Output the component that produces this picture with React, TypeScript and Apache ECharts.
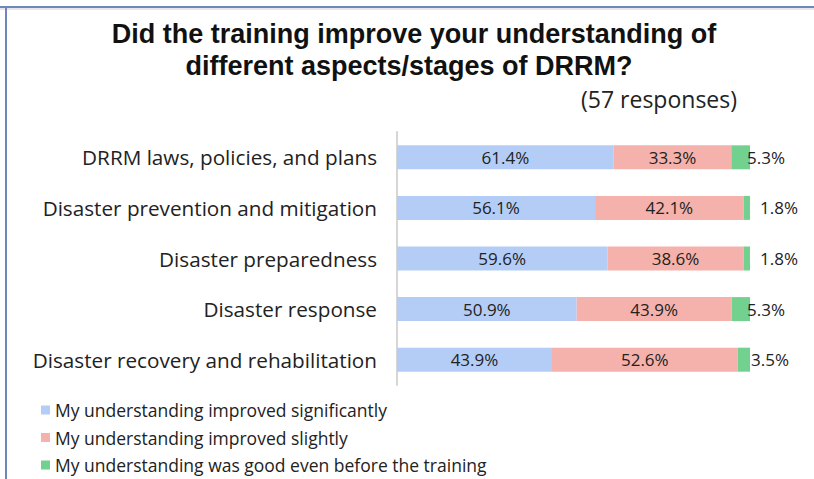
import React, { useEffect, useRef } from "react";
import * as echarts from "echarts";

const categories = [
  "DRRM laws, policies, and plans",
  "Disaster prevention and mitigation",
  "Disaster preparedness",
  "Disaster response",
  "Disaster recovery and rehabilitation",
];
const seriesNames = [
  "My understanding improved significantly",
  "My understanding improved slightly",
  "My understanding was good even before the training",
];
const significantly = [61.4, 56.1, 59.6, 50.9, 43.9];
const slightly = [33.3, 42.1, 38.6, 43.9, 52.6];
const goodBefore = [5.3, 1.8, 1.8, 5.3, 3.5];

const titleLine1 = "Did the training improve your understanding of";
const titleLine2 = "different aspects/stages of DRRM?";
const subtitle = "(57 responses)";

// styling (not data)
const colors = ["#b4cdf6", "#f5b2ac", "#72d18f"];
const greenLabelShift = [-3, 10, 10, -3, 1];
const FONT = "'Open Sans', Lato, sans-serif";
const TITLE_FONT = "'Liberation Sans', Arial, sans-serif";

export default function App() {
  const ref = useRef<HTMLDivElement>(null);
  useEffect(() => {
    if (!ref.current) return;
    const chart = echarts.init(ref.current, undefined, { renderer: "svg" });
    const fmt = (p: any) => Number(p.value).toFixed(1) + "%";
    const insideLabel = {
      show: true,
      position: "inside",
      fontSize: 17,
      color: "#222",
      fontFamily: FONT,
      formatter: fmt,
    };
    chart.setOption({
      animation: false,
      backgroundColor: "#ffffff",
      textStyle: { fontFamily: FONT },
      grid: { left: 397, right: 64, top: 132, bottom: 94, containLabel: false },
      xAxis: { type: "value", min: 0, max: 100, show: false },
      yAxis: {
        type: "category",
        data: categories,
        inverse: true,
        axisLine: { show: true, lineStyle: { color: "#d6d6d6", width: 2 } },
        axisTick: { show: false },
        axisLabel: { fontSize: 20.7, color: "#222", margin: 20, fontFamily: FONT },
      },
      legend: {
        orient: "vertical",
        left: 41,
        top: 401,
        padding: 0,
        itemWidth: 9,
        itemHeight: 9,
        itemGap: 9.5,
        icon: "rect",
        textStyle: { fontSize: 17.5, color: "#222", fontFamily: FONT },
        data: seriesNames,
      },
      series: [
        {
          name: seriesNames[0],
          type: "bar",
          stack: "all",
          barWidth: 24,
          itemStyle: { color: colors[0] },
          label: insideLabel,
          data: significantly,
        },
        {
          name: seriesNames[1],
          type: "bar",
          stack: "all",
          barWidth: 24,
          itemStyle: { color: colors[1] },
          label: insideLabel,
          data: slightly,
        },
        {
          name: seriesNames[2],
          type: "bar",
          stack: "all",
          barWidth: 24,
          itemStyle: { color: colors[2] },
          data: goodBefore.map((v, i) => ({
            value: v,
            label: {
              show: true,
              position: "right",
              distance: greenLabelShift[i],
              fontSize: 17,
              color: "#222",
              fontFamily: FONT,
              formatter: fmt,
            },
          })),
        },
      ],
      graphic: [
        { type: "line", shape: { x1: 0, y1: 7, x2: 814, y2: 7 }, style: { stroke: "#7285ba", lineWidth: 2 } },
        { type: "line", shape: { x1: 0, y1: 9, x2: 814, y2: 9 }, style: { stroke: "#e4e6ea", lineWidth: 2 } },
        { type: "line", shape: { x1: 6, y1: 6, x2: 6, y2: 479 }, style: { stroke: "#7285ba", lineWidth: 2 } },
        {
          type: "text",
          x: 414,
          y: 34,
          style: {
            text: titleLine1,
            fontSize: 27,
            fontWeight: "bold",
            fontFamily: TITLE_FONT,
            fill: "#111",
            align: "center",
            verticalAlign: "middle",
          },
        },
        {
          type: "text",
          x: 409,
          y: 66,
          style: {
            text: titleLine2,
            fontSize: 27,
            fontWeight: "bold",
            fontFamily: TITLE_FONT,
            fill: "#111",
            align: "center",
            verticalAlign: "middle",
          },
        },
        {
          type: "text",
          x: 737,
          y: 99,
          style: {
            text: subtitle,
            fontSize: 23,
            fontFamily: FONT,
            fill: "#222",
            align: "right",
            verticalAlign: "middle",
          },
        },
      ],
    });
    return () => chart.dispose();
  }, []);
  return (
    <div
      ref={ref}
      style={{ position: "fixed", left: 0, top: 0, width: 814, height: 479, background: "#fff" }}
    />
  );
}
